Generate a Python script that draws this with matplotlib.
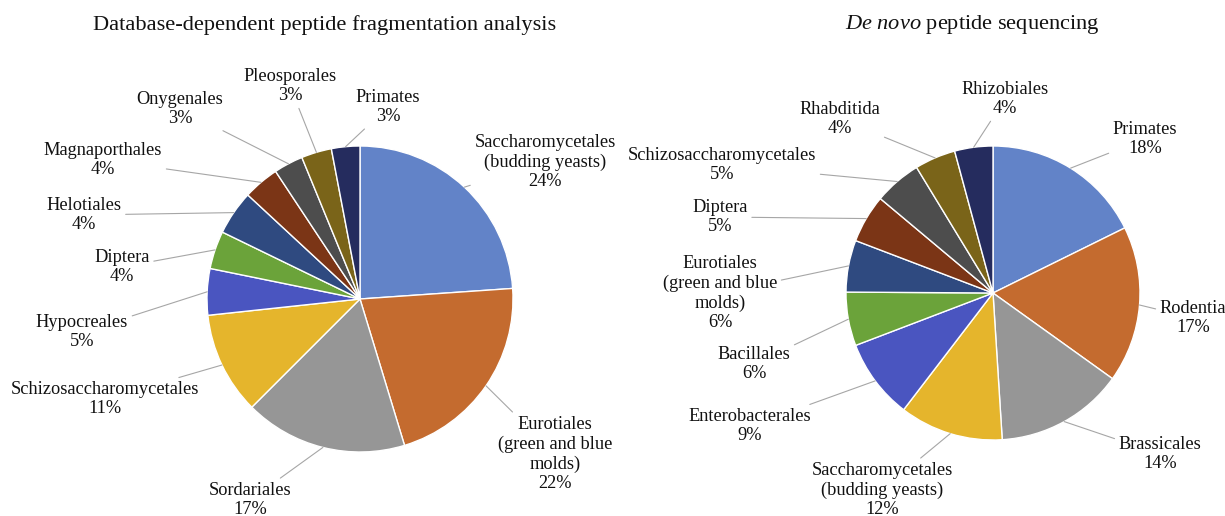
import numpy as np
import matplotlib
matplotlib.use("Agg")
import matplotlib.pyplot as plt

plt.rcParams['font.family'] = ['Liberation Serif', 'DejaVu Serif']
plt.rcParams['mathtext.fontset'] = 'custom'
plt.rcParams['mathtext.rm'] = 'Liberation Serif'
plt.rcParams['mathtext.it'] = 'Liberation Serif:italic'

# left pie: database-dependent fragmentation
db_labels = ["Saccharomycetales\n(budding yeasts)", "Eurotiales\n(green and blue\nmolds)", "Sordariales",
             "Schizosaccharomycetales", "Hypocreales", "Diptera", "Helotiales", "Magnaporthales",
             "Onygenales", "Pleosporales", "Primates"]
db_values = [23.9, 21.4, 17.2, 10.8, 4.9, 4.0, 4.7, 3.8, 3.1, 3.2, 3.0]
db_pct = [24, 22, 17, 11, 5, 4, 4, 4, 3, 3, 3]

# right pie: de novo sequencing
dn_labels = ["Primates", "Rodentia", "Brassicales", "Saccharomycetales\n(budding yeasts)", "Enterobacterales",
             "Bacillales", "Eurotiales\n(green and blue\nmolds)", "Diptera", "Schizosaccharomycetales",
             "Rhabditida", "Rhizobiales"]
dn_values = [17.7, 17.2, 14.1, 11.4, 8.8, 5.9, 5.7, 5.3, 5.2, 4.5, 4.2]
dn_pct = [18, 17, 14, 12, 9, 6, 6, 5, 5, 4, 4]

colors = ["#6283C8", "#C46B2F", "#969696", "#E5B52C", "#4A55C0", "#6BA33A",
          "#2F4A80", "#7B3516", "#4D4D4D", "#7A6419", "#252C5E"]

W, H = 1225, 516

# label text centres in pixels (figure, from top-left)
db_text_px = [(545, 162), (555, 454), (250, 500), (105, 399), (82, 332), (122, 267),
              (84, 215), (103, 160), (180, 109), (290, 86), (388, 107)]
dn_text_px = [(1145, 139), (1193, 318), (1160, 454), (882, 490), (750, 426), (754, 364),
              (720, 293), (720, 217), (722, 165), (840, 119), (1005, 99)]


def draw_pie(ax_box, center, radius, values, labels, pct, text_px):
    x0, x1 = ax_box
    cx, cy = center
    ax = fig.add_axes([x0 / W, 0, (x1 - x0) / W, 1])
    wedges, _ = ax.pie(values, colors=colors, startangle=90, counterclock=False,
                       radius=1, center=(0, 0), frame=True,
                       wedgeprops=dict(edgecolor='white', linewidth=1.0))
    ax.set_xlim(-(cx - x0) / radius, (x1 - cx) / radius)
    ax.set_ylim(-(H - cy) / radius, cy / radius)
    ax.axis('off')
    for w, lab, p, (tx, ty) in zip(wedges, labels, pct, text_px):
        ang = np.deg2rad((w.theta1 + w.theta2) / 2)
        xy = (np.cos(ang), np.sin(ang))
        xt = ((tx - cx) / radius, (cy - ty) / radius)
        ax.annotate(f"{lab}\n{p}%", xy=xy, xytext=xt, ha='center', va='center',
                    fontsize=13.2, color='#111111', linespacing=1.2,
                    arrowprops=dict(arrowstyle='-', color='#a6a6a6', lw=0.8,
                                    shrinkA=1, shrinkB=0))
    return ax


fig = plt.figure(figsize=(W / 100, H / 100), dpi=100)
fig.patch.set_facecolor('white')

draw_pie((0, 612), (360, 299), 153, db_values, db_labels, db_pct, db_text_px)
draw_pie((612, 1225), (993, 293), 147, dn_values, dn_labels, dn_pct, dn_text_px)

fig.text(325 / W, 1 - 25 / H, "Database-dependent peptide fragmentation analysis",
         ha='center', va='center', fontsize=16.1, color='#111111')
fig.text(972 / W, 1 - 25 / H, r"$\mathit{De\ novo}$ peptide sequencing",
         ha='center', va='center', fontsize=16.1, color='#111111')

fig.savefig("out.png", dpi=100, facecolor='white')
